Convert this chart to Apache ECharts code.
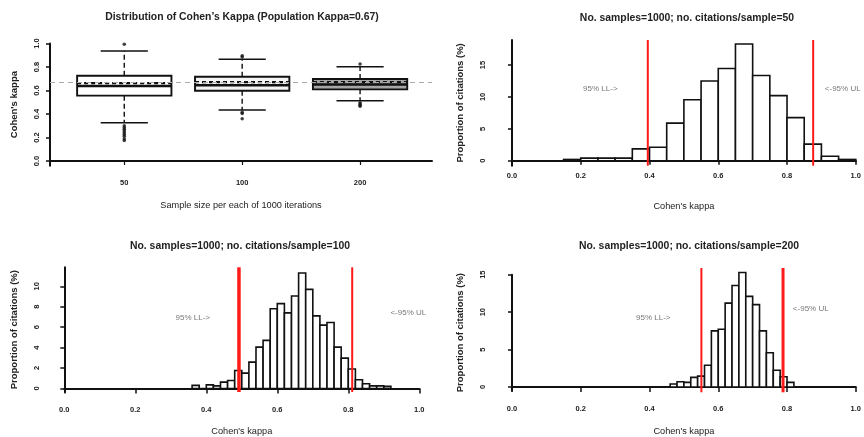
<!DOCTYPE html>
<html>
<head>
<meta charset="utf-8">
<script src="https://cdn.jsdelivr.net/npm/echarts@6/dist/echarts.min.js"></script>
<style>
  html, body { margin: 0; padding: 0; background: #fff; }
  #chart { width: 864px; height: 437px; }
</style>
</head>
<body>
<div id="chart"></div>
<script>
// --- box plot: distribution of kappa per sample size ---
const sampleSizes = ['50', '100', '200'];
const boxLow    = [0.326, 0.434, 0.513];
const boxQ1     = [0.556, 0.598, 0.610];
const boxMedian = [0.638, 0.645, 0.652];
const boxQ3     = [0.726, 0.717, 0.698];
const boxHigh   = [0.936, 0.867, 0.803];
const boxMean   = [0.662, 0.672, 0.672];
const outliers50  = [0.993, 0.30, 0.285, 0.27, 0.255, 0.24, 0.225, 0.21, 0.19, 0.175];
const outliers100 = [0.895, 0.885, 0.415, 0.405, 0.36];
const outliers200 = [0.825, 0.495, 0.485, 0.475, 0.465];
const popKappa = 0.67;

// --- histograms, % of samples per bin ---
const hist50Start = 0.15, hist50Width = 0.05;
const hist50 = [0.2, 0.4, 0.4, 0.4, 1.85, 2.1, 5.9, 9.55, 12.5, 14.45, 18.3, 13.35, 10.2, 6.75, 2.6, 0.7, 0.2];
const limits50 = [0.395, 0.876];

const hist100Start = 0.36, hist100Width = 0.02;
const hist100 = [0.3, 0, 0.35, 0.25, 0.62, 0.78, 1.76, 1.5, 2.58, 4.04, 4.7, 7.8, 8.3, 7.4, 9.05, 11.3,
                 9.7, 7.1, 6.2, 6.45, 4.04, 2.97, 1.9, 0.85, 0.46, 0.25, 0.25, 0.2];
const limits100 = [0.492, 0.811];

const hist200Start = 0.46, hist200Width = 0.02;
const hist200 = [0.4, 0.7, 0.62, 1.28, 1.45, 2.9, 7.5, 7.72, 11.2, 13.55, 15.3, 12.1, 11.0, 7.5, 4.57, 2.24, 1.37, 0.62];
const limits200 = [0.538, 0.770];

const kappaTicks = [0, 0.2, 0.4, 0.6, 0.8, 1.0];

// label positions (data coords) for the limit notes
const notes50  = [[0.257, 11.2, '95% LL->'], [0.962, 11.2, '<-95% UL']];
const notes100 = [[0.362, 6.9, '95% LL->'], [0.969, 7.4, '<-95% UL']];
const notes200 = [[0.411, 9.3, '95% LL->'], [0.869, 10.5, '<-95% UL']];

const font = 'Arial, "Liberation Sans", sans-serif';
const ink = '#111';

function bins(start, width, vals) {
  return vals.map((v, i) => [start + i * width, start + (i + 1) * width, v]);
}

function histItem(params, api) {
  const a = api.coord([api.value(0), 0]);
  const b = api.coord([api.value(1), api.value(2)]);
  return {
    type: 'rect',
    shape: { x: a[0], y: b[1], width: b[0] - a[0], height: a[1] - b[1] },
    style: { fill: '#fff', stroke: ink, lineWidth: 1.6 }
  };
}

function histSeries(idx, data) {
  return {
    type: 'custom', xAxisIndex: idx, yAxisIndex: idx,
    data: data, encode: { x: [0, 1], y: 2 },
    renderItem: histItem
  };
}

function limitSeries(idx, vals, widths) {
  return {
    type: 'custom', xAxisIndex: idx, yAxisIndex: idx, z: 5,
    data: vals.map(v => [v, 0]), encode: { x: 0, y: 1 },
    renderItem: (params, api) => {
      const x = api.coord([api.value(0), 0])[0];
      const cs = params.coordSys;
      return {
        type: 'line',
        shape: { x1: x, y1: cs.y, x2: x, y2: cs.y + cs.height },
        style: { stroke: '#ff1a1a', lineWidth: widths[params.dataIndex] }
      };
    }
  };
}

function noteSeries(idx, notes) {
  return {
    type: 'scatter', xAxisIndex: idx, yAxisIndex: idx,
    symbolSize: 1, itemStyle: { color: 'rgba(0,0,0,0)' },
    data: notes.map(n => ({ value: [n[0], n[1]], name: n[2] })),
    label: { show: true, position: 'inside', formatter: '{b}', fontSize: 8, color: '#555', fontFamily: font }
  };
}

function boxItem(params, api) {
  const i = params.dataIndex;
  const x = api.value(0);
  const unit = api.size([1, 0])[0];
  const hb = unit * 0.4, hc = unit * 0.2;
  const c = api.coord([x, 0])[0];
  const y = v => api.coord([x, v])[1];
  const fills = ['#ffffff', '#f4f4f4', '#a6a6a6'];
  const lo = y(api.value(1)), q1 = y(api.value(2)), md = y(api.value(3));
  const q3 = y(api.value(4)), hi = y(api.value(5)), mn = y(api.value(6));
  const dash = { stroke: ink, lineWidth: 1.4, lineDash: [5, 3] };
  const solid = { stroke: ink, lineWidth: 1.5 };
  return {
    type: 'group',
    children: [
      { type: 'line', shape: { x1: c, y1: q3, x2: c, y2: hi }, style: dash },
      { type: 'line', shape: { x1: c, y1: q1, x2: c, y2: lo }, style: dash },
      { type: 'line', shape: { x1: c - hc, y1: hi, x2: c + hc, y2: hi }, style: solid },
      { type: 'line', shape: { x1: c - hc, y1: lo, x2: c + hc, y2: lo }, style: solid },
      { type: 'rect', shape: { x: c - hb, y: q3, width: hb * 2, height: q1 - q3 },
        style: { fill: fills[i], stroke: ink, lineWidth: 1.9 } },
      { type: 'line', shape: { x1: c - hb, y1: md, x2: c + hb, y2: md }, style: { stroke: ink, lineWidth: 2.5 } },
      { type: 'line', shape: { x1: c - hb, y1: mn, x2: c + hb, y2: mn }, style: { stroke: ink, lineWidth: 2.2, lineDash: [4, 3] } }
    ]
  };
}

const boxData = sampleSizes.map((s, i) =>
  [i + 1, boxLow[i], boxQ1[i], boxMedian[i], boxQ3[i], boxHigh[i], boxMean[i]]);
const outlierData = []
  .concat(outliers50.map(v => [1, v]))
  .concat(outliers100.map(v => [2, v]))
  .concat(outliers200.map(v => [3, v]));

const tickLabel = { fontSize: 7.5, fontWeight: 'bold', color: '#222', fontFamily: font };

function kappaAxis(grid, show, labelMargin, tickLen, nameGap) {
  return {
    type: 'value', gridIndex: grid, min: 0, max: 1, show: show !== false,
    name: "Cohen's kappa", nameLocation: 'middle', nameGap: nameGap,
    nameTextStyle: { fontSize: 9.2, color: '#222', fontFamily: font },
    axisLine: { lineStyle: { color: ink, width: 2 } },
    axisTick: { length: tickLen, lineStyle: { color: ink, width: 1.5 }, customValues: kappaTicks },
    axisLabel: Object.assign({ margin: labelMargin, customValues: kappaTicks,
                 formatter: v => v.toFixed(1) }, tickLabel),
    splitLine: { show: false }
  };
}

function propAxis(grid, min, max, ticks, offset, show, nameGap) {
  return {
    type: 'value', gridIndex: grid, min: min, max: max, offset: offset, show: show !== false,
    name: 'Proportion of citations (%)', nameLocation: 'middle', nameGap: nameGap || 32,
    nameTextStyle: { fontSize: 9.5, fontWeight: 'bold', color: '#222', fontFamily: font },
    axisLine: { lineStyle: { color: ink, width: 2 } },
    axisTick: { length: 4, lineStyle: { color: ink, width: 1.5 }, customValues: ticks },
    axisLabel: Object.assign({ rotate: 90, margin: 11, customValues: ticks }, tickLabel),
    splitLine: { show: false }
  };
}

const titleStyle = { fontSize: 10.4, fontWeight: 'bold', color: '#222', fontFamily: font };

const chart = echarts.init(document.getElementById('chart'), null, { renderer: 'canvas' });
chart.setOption({
  animation: false,
  backgroundColor: '#fff',
  textStyle: { fontFamily: font },
  title: [
    { text: 'Distribution of Cohen\u2019s Kappa (Population Kappa=0.67)', left: 242, top: 12.3, textAlign: 'center', padding: 0, textStyle: titleStyle },
    { text: 'No. samples=1000; no. citations/sample=50', left: 687, top: 13, textAlign: 'center', padding: 0, textStyle: titleStyle },
    { text: 'No. samples=1000; no. citations/sample=100', left: 240, top: 241, textAlign: 'center', padding: 0, textStyle: titleStyle },
    { text: 'No. samples=1000; no. citations/sample=200', left: 689, top: 241, textAlign: 'center', padding: 0, textStyle: titleStyle }
  ],
  grid: [
    { left: 50, top: 43.5, width: 382, height: 122.2 },
    { left: 512, top: 40, width: 350, height: 125.7 },
    { left: 64.3, top: 267.3, width: 355, height: 125 },
    { left: 512, top: 274.7, width: 353, height: 117.6 },
    { left: 512, top: 268, width: 353, height: 124.3 }
  ],
  xAxis: [
    {
      type: 'value', gridIndex: 0, min: 0.37, max: 3.61,
      name: 'Sample size per each of 1000 iterations', nameLocation: 'middle', nameGap: 35,
      nameTextStyle: { fontSize: 9.2, color: '#222', fontFamily: font },
      axisLine: { lineStyle: { color: ink, width: 2 } },
      axisTick: { length: 4, lineStyle: { color: ink, width: 1.2 }, customValues: [1, 2, 3] },
      axisLabel: Object.assign({ margin: 13, customValues: [1, 2, 3],
                   formatter: v => sampleSizes[Math.round(v) - 1] || '' }, tickLabel),
      splitLine: { show: false }
    },
    kappaAxis(1, true, 6, 4, 36),
    kappaAxis(2, true, 14, 5, 35),
    kappaAxis(3, true, 14, 5, 36.5),
    kappaAxis(4, false, 14, 5, 36)
  ],
  yAxis: [
    {
      type: 'value', gridIndex: 0, min: -0.04, max: 1.0,
      name: "Cohen's kappa", nameLocation: 'middle', nameGap: 31,
      nameTextStyle: { fontSize: 9.5, fontWeight: 'bold', color: '#222', fontFamily: font },
      axisLine: { lineStyle: { color: ink, width: 2 } },
      axisTick: { length: 4, lineStyle: { color: ink, width: 1.5 }, customValues: kappaTicks },
      axisLabel: Object.assign({ rotate: 90, margin: 9, customValues: kappaTicks,
                   formatter: v => v.toFixed(1) }, tickLabel),
      splitLine: { show: false }
    },
    propAxis(1, -0.78, 18.92, [0, 5, 10, 15], 14.3),
    propAxis(2, -0.35, 11.86, [0, 2, 4, 6, 8, 10], 12, true, 33),
    propAxis(3, -0.47, 15, [0, 5, 10, 15], 14.3),
    propAxis(4, -0.47, 15.88, [0, 5, 10, 15], 14.3, false)
  ],
  series: [
    {
      type: 'custom', xAxisIndex: 0, yAxisIndex: 0,
      data: boxData, encode: { x: 0, y: [1, 2, 3, 4, 5, 6] },
      renderItem: boxItem,
      markLine: {
        silent: true, symbol: 'none', label: { show: false },
        lineStyle: { color: '#aaa', type: [5, 4], width: 1 },
        data: [{ yAxis: popKappa }]
      }
    },
    {
      type: 'scatter', xAxisIndex: 0, yAxisIndex: 0,
      symbol: 'circle', symbolSize: 3.5, itemStyle: { color: ink },
      data: outlierData
    },
    histSeries(1, bins(hist50Start, hist50Width, hist50)),
    limitSeries(1, limits50, [2, 2]),
    noteSeries(1, notes50),
    histSeries(2, bins(hist100Start, hist100Width, hist100)),
    limitSeries(2, limits100, [3.5, 2]),
    noteSeries(2, notes100),
    histSeries(3, bins(hist200Start, hist200Width, hist200)),
    limitSeries(4, limits200, [2, 3]),
    noteSeries(3, notes200)
  ]
});
</script>
</body>
</html>
